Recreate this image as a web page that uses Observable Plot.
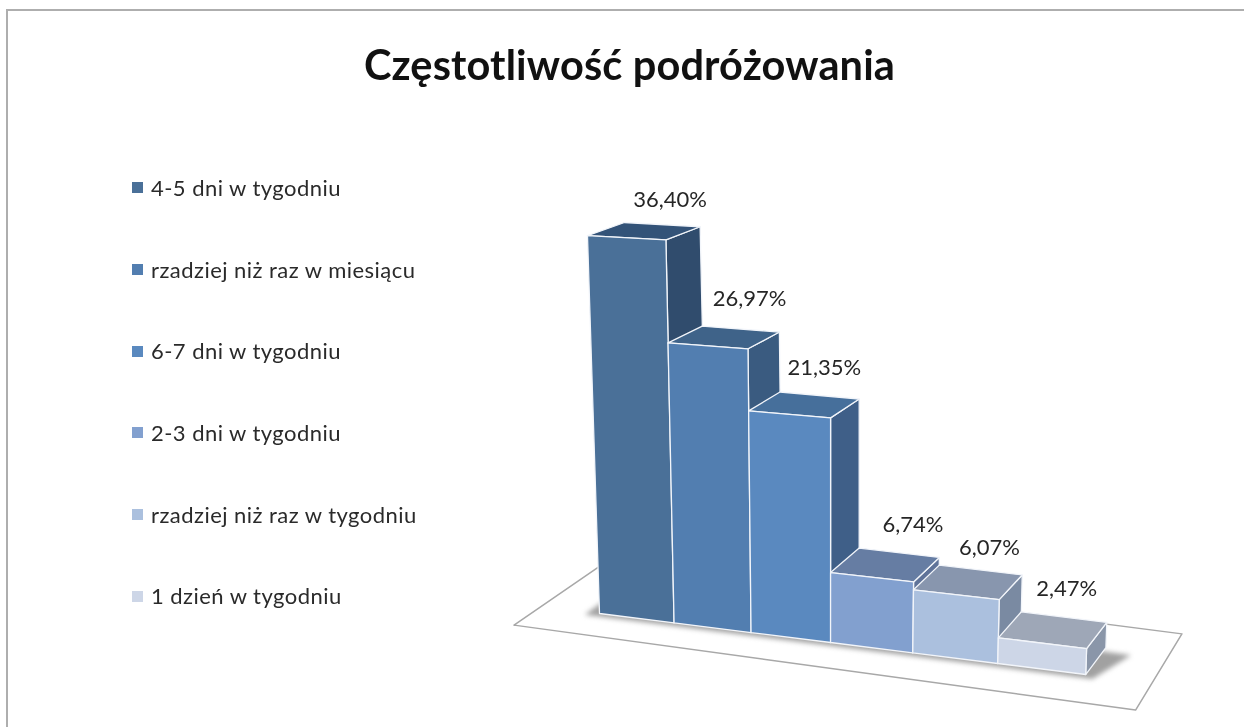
<!DOCTYPE html>
<html lang="pl">
<head>
<meta charset="utf-8">
<script src="https://cdn.jsdelivr.net/npm/d3@7"></script>
<script src="https://cdn.jsdelivr.net/npm/@observablehq/plot@0.6"></script>
<style>
  html, body { margin: 0; padding: 0; width: 1244px; height: 727px; overflow: hidden; background: #fff; }
  #frame { position: absolute; left: 6px; top: 9px; width: 1400px; height: 900px; border: 2px solid #aeaeae; box-sizing: border-box; }
  #title { position: absolute; left: 0; top: 40px; width: 1259px; text-align: center; font: 700 41.5px Lato, "Open Sans", sans-serif; letter-spacing: 0.15px; color: #111; line-height: 48px; filter: blur(0.4px); }
  #legend { position: absolute; left: 132px; top: 147px; font: 22px Lato, "Open Sans", sans-serif; letter-spacing: 0.46px; color: #2a2a2a; filter: blur(0.4px); }
  #legend .row { height: 81.7px; line-height: 81.7px; white-space: nowrap; display: flex; align-items: center; }
  #legend .key { width: 11px; height: 11px; margin-right: 8px; flex: none; }
  #chart { position: absolute; left: 0; top: 0; filter: blur(0.4px); }
</style>
</head>
<body>
<div id="frame"></div>
<div id="title">Częstotliwość podróżowania</div>
<div id="legend"></div>
<div id="chart"></div>
<script>
const categories = ["4-5 dni w tygodniu", "rzadziej niż raz w miesiącu", "6-7 dni w tygodniu", "2-3 dni w tygodniu", "rzadziej niż raz w tygodniu", "1 dzień w tygodniu"];
const values = [36.40, 26.97, 21.35, 6.74, 6.07, 2.47];
const frontColors = ["#4a7098", "#527eb0", "#5a89bf", "#82a0cf", "#abc0de", "#cdd6e7"];
const topColors = ["#335378", "#3f6389", "#466f9b", "#667da3", "#8896ae", "#9ea7b7"];
const sideColors = ["#304c6d", "#3a5b80", "#3f5f88", "#5f7399", "#7a8aa2", "#8a96a9"];
const labelNudge = [[0, 2], [1, -3], [-3, -1], [6, -1], [1, 5], [-5, -1]];

// Perspective of the 3-D chart: category position u, depth d (0 front, 1 back), value v.
function project(u, d, v, t = 0) {
  const bx = 599 + 73.4 * u / (1 - 0.0157 * u);
  const by = 613 + (bx - 599) * 0.1255;
  return {
    x: bx + (bx - 830) * 0.00143 * v + d * (37 - 2.8 * u),
    y: by - (10.38 + 0.14 * t) * v + d * (-27 + 0.38 * v)
  };
}

function polygon(id, color, corners) {
  return [...corners, corners[0]].map(([u, d, v, t]) => ({id, color, ...project(u, d, v, t)}));
}

const floor = polygon("floor", "#ffffff", [[-0.8, -0.7, 0], [6.75, -1, 0], [6.7, 1.8, 0], [-0.8, 1.7, 0]]);
const shadow = polygon("shadow", "#6f6f6f", [[-0.15, -0.1, 0], [6.1, -0.12, 0], [6.32, 0.85, 0], [-0.15, 1, 0]]);

const faces = values.flatMap((v, i) => [
  ...polygon(`side${i}`, sideColors[i], [[i + 1, 0, v, 1], [i + 1, 1, v, 1], [i + 1, 1, 0, 1], [i + 1, 0, 0, 1]]),
  ...polygon(`top${i}`, topColors[i], [[i, 0, v, 0], [i + 1, 0, v, 1], [i + 1, 1, v, 1], [i, 1, v, 0]]),
  ...polygon(`front${i}`, frontColors[i], [[i, 0, v, 0], [i + 1, 0, v, 1], [i + 1, 0, 0, 1], [i, 0, 0, 0]])
]);

const labels = values.map((v, i) => {
  const p = project(i + 0.5, 1, v, 0.5);
  return {
    x: p.x + 8 + labelNudge[i][0],
    y: p.y - 27 + labelNudge[i][1],
    text: v.toFixed(2).replace(".", ",") + "%"
  };
});

const legend = document.getElementById("legend");
categories.forEach((c, i) => {
  const row = document.createElement("div");
  row.className = "row";
  const key = document.createElement("span");
  key.className = "key";
  key.style.background = frontColors[i];
  row.append(key, document.createTextNode(c));
  legend.append(row);
});

const chart = Plot.plot({
  width: 1244,
  height: 727,
  margin: 0,
  x: {domain: [0, 1244], range: [0, 1244], axis: null},
  y: {domain: [0, 727], range: [0, 727], axis: null},
  color: {type: "identity"},
  style: {background: "transparent", fontFamily: "Lato, 'Open Sans', sans-serif"},
  marks: [
    Plot.line(floor, {x: "x", y: "y", z: "id", fill: "#ffffff", stroke: "#a8a8a8", strokeWidth: 1.5}),
    Plot.line(shadow, {x: "x", y: "y", z: "id", fill: "#6f6f6f", fillOpacity: 0.65, imageFilter: "blur(2.5px)"}),
    Plot.line(faces, {x: "x", y: "y", z: "id", fill: "color", stroke: "#f2f5fa", strokeWidth: 1.3, strokeLinejoin: "round"}),
    Plot.text(labels, {x: "x", y: "y", text: "text", fontSize: 22, fill: "#262626"})
  ]
});
document.getElementById("chart").append(chart);
</script>
</body>
</html>
